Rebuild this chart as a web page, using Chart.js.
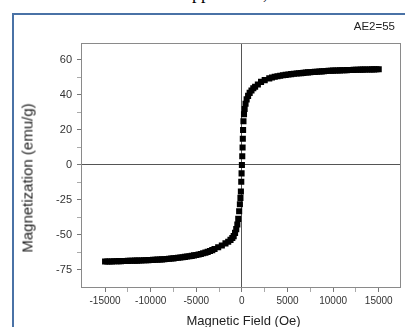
<!DOCTYPE html>
<html><head><meta charset="utf-8">
<script src="https://cdn.jsdelivr.net/npm/chart.js@4.4.0/dist/chart.umd.min.js"></script>
<style>
html,body{margin:0;padding:0;background:#fff;}
#wrap{position:relative;width:405px;height:327px;overflow:hidden;background:#fff;}
#frame{position:absolute;left:12px;top:13px;width:500px;height:400px;border-left:2px solid #4a72a6;border-top:2px solid #4a72a6;}
canvas{position:absolute;left:0;top:0;}
.t{position:absolute;font-family:Arial,"Liberation Sans",sans-serif;color:#222;white-space:nowrap;}
.s{position:absolute;font-family:"Liberation Serif","Times New Roman",serif;font-size:18px;line-height:18px;color:#000;}
</style></head><body>
<div id="wrap">
<span class="s" style="left:192px;top:-16px;">pp</span>
<span class="s" style="left:263px;top:-16px;">,</span>
<div id="frame"></div>
<canvas id="c" width="405" height="327" style="width:405px;height:327px"></canvas>
<div class="t" id="ae" style="right:10px;top:20px;font-size:11.5px;">AE2=55</div>
<div class="t" id="xt" style="left:243.5px;top:320px;font-size:13px;transform:translate(-50%,-50%);">Magnetic Field (Oe)</div>
<div class="t" id="yt" style="left:26.5px;top:178px;font-size:15px;transform:translate(-50%,-50%) rotate(-90deg);">Magnetization (emu/g)</div>
</div>
<script>
// Data (field in Oe, magnetization in emu/g)
const fieldOe = [
  -15000,-14750,-14500,-14250,-14000,-13750,-13500,-13250,-13000,-12750,-12500,-12250,-12000,-11750,-11500,-11250,-11000,-10750,-10500,-10250,
  -10000,-9750,-9500,-9250,-9000,-8750,-8500,-8250,-8000,-7750,-7500,-7250,-7000,-6750,-6500,-6250,-6000,-5750,-5500,-5250,
  -5000,-4750,-4500,-4250,-4000,-3750,-3500,-3250,-3000,
  -2600,-2200,-1800,-1500,-1250,-1050,-900,-750,-620,-500,-400,-300,-220,-160,-110,-70,-35,
  0,
  40,75,100,130,170,230,300,400,520,680,850,1050,1250,1450,1750,2100,2500,3000,3300,3600,3900,4200,4500,4800,5100,5400,5700,
  6000,6250,6500,6750,7000,7250,7500,7750,8000,8250,8500,8750,9000,9250,9500,9750,
  10000,10250,10500,10750,11000,11250,11500,11750,12000,12250,12500,12750,13000,13250,13500,13750,14000,14250,14500,14750,15000];
const magnetization = [
  -69.0,-69.0,-68.9,-68.9,-68.8,-68.8,-68.7,-68.7,-68.6,-68.6,-68.5,-68.45,-68.4,-68.35,-68.3,-68.25,-68.2,-68.1,-68.0,-67.95,
  -67.9,-67.8,-67.7,-67.6,-67.5,-67.4,-67.3,-67.15,-67.0,-66.85,-66.7,-66.5,-66.3,-66.1,-65.9,-65.65,-65.4,-65.15,-64.9,-64.6,
  -64.3,-64.0,-63.6,-63.1,-62.6,-62.1,-61.5,-60.8,-60.0,
  -58.8,-57.5,-56.0,-54.8,-53.5,-52.2,-50.8,-48.5,-45.8,-42.5,-38.5,-33.0,-28.0,-23.5,-19.0,-12.0,-6.0,
  0,
  5,10,15,20,25,29,32,35,37.5,39.5,41.2,42.6,43.8,44.7,46.0,47.5,48.5,49.5,50.0,50.4,50.7,51.0,51.25,51.5,51.7,51.9,52.1,
  52.3,52.4,52.5,52.65,52.8,52.9,53.0,53.1,53.2,53.3,53.4,53.5,53.6,53.7,53.8,53.85,
  53.9,53.95,54.0,54.05,54.1,54.15,54.2,54.25,54.3,54.35,54.4,54.45,54.5,54.5,54.55,54.6,54.6,54.65,54.65,54.7,54.7];
const xTickLabels = [-15000,-10000,-5000,0,5000,10000,15000];
const yTickLabels = [60,40,20,0,-25,-50,-75];

// The reference y axis is piecewise: 20 units per step above zero, 25 units per step below.
const NEG_FACTOR = 0.8;
const toAxis = v => v >= 0 ? v : v * NEG_FACTOR;
const fromAxis = a => a >= 0 ? a : a / NEG_FACTOR;

function withMinors(majors){
  const out = [];
  const s = majors.slice().sort((a,b)=>a-b);
  for (let i=0;i<s.length;i++){
    out.push({value:s[i]});
    if (i < s.length-1) out.push({value:(s[i]+s[i+1])/2});
  }
  return out;
}
const yMajorAxis = yTickLabels.map(toAxis);
const xMajor = xTickLabels.slice();

const points = fieldOe.map((h,i)=>({x:h, y:toAxis(magnetization[i])}));

const framePlugin = {
  id:'frameBox',
  beforeDatasetsDraw(chart){
    const {ctx, chartArea:a} = chart;
    ctx.save();
    ctx.strokeStyle = '#8a8a8a';
    ctx.lineWidth = 1;
    ctx.strokeRect(Math.round(a.left)+0.5, Math.round(a.top)+0.5, Math.round(a.right-a.left)-1, Math.round(a.bottom-a.top)-1);
    ctx.restore();
  }
};

const tickFont = {family:'Arial, "Liberation Sans", sans-serif'};

new Chart(document.getElementById('c'), {
  type:'scatter',
  data:{datasets:[{
    data:points,
    pointStyle:'rect',
    pointRadius:4.3,
    pointHoverRadius:4.3,
    backgroundColor:'#000',
    borderColor:'#000',
    borderWidth:0,
    showLine:false
  }]},
  options:{
    responsive:false,
    animation:false,
    events:[],
    layout:{padding:{left:0,top:43,right:1.5,bottom:0}},
    plugins:{legend:{display:false},tooltip:{enabled:false},title:{display:false}},
    scales:{
      x:{
        type:'linear',
        min:-17640, max:17410,
        afterFit(scale){ scale.height = 39; },
        afterBuildTicks(scale){ scale.ticks = withMinors(xMajor); },
        border:{display:false},
        grid:{
          drawOnChartArea:true,
          drawTicks:true,
          tickLength:4,
          color:c => (c.tick && c.tick.value===0) ? '#555' : 'rgba(0,0,0,0)',
          tickColor:c => (c.tick && xMajor.includes(c.tick.value)) ? '#777' : '#aaa',
          lineWidth:1
        },
        ticks:{
          autoSkip:false,
          maxRotation:0,
          padding:3,
          color:'#333',
          font:{...tickFont, size:10},
          callback:v => xMajor.includes(v) ? String(v) : ''
        }
      },
      y:{
        type:'linear',
        min:-70.3, max:69.7,
        afterFit(scale){ scale.width = 81; },
        afterBuildTicks(scale){ scale.ticks = withMinors(yMajorAxis); },
        border:{display:false},
        grid:{
          drawOnChartArea:true,
          drawTicks:true,
          tickLength:4,
          color:c => (c.tick && c.tick.value===0) ? '#555' : 'rgba(0,0,0,0)',
          tickColor:c => (c.tick && yMajorAxis.includes(c.tick.value)) ? '#777' : '#aaa',
          lineWidth:1
        },
        ticks:{
          autoSkip:false,
          padding:5,
          color:'#333',
          font:{...tickFont, size:11},
          callback:v => yMajorAxis.includes(v) ? String(Math.round(fromAxis(v))) : ''
        }
      }
    }
  },
  plugins:[framePlugin]
});
</script>
</body></html>
